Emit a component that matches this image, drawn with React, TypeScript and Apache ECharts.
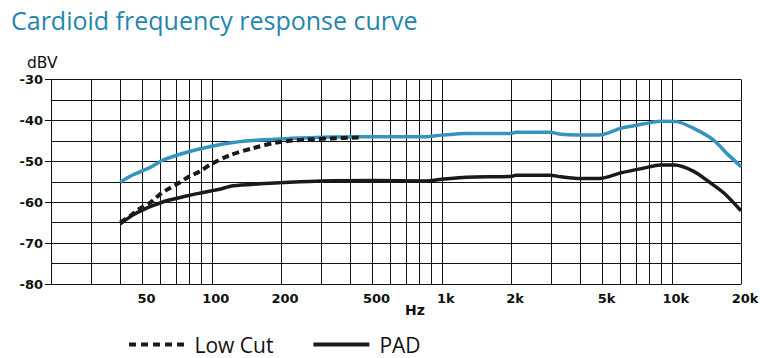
import React, { useEffect, useRef } from "react";
import * as echarts from "echarts";

const title = "Cardioid frequency response curve";
const yName = "dBV";
const xName = "Hz";

const xGridValues = [
  20, 30, 40, 50, 60, 70, 80, 90, 100, 200, 300, 400, 500, 600, 700, 800, 900,
  1000, 2000, 3000, 4000, 5000, 6000, 7000, 8000, 9000, 10000, 20000,
];
const xLabelValues = [50, 100, 200, 500, 1000, 2000, 5000, 10000, 20000];

const responseFreq = [40, 45.5, 54, 62, 80, 100, 124, 161, 218, 300, 500, 850, 1000, 1280, 2000, 2100, 2950, 3300, 3860, 4830, 6030, 7500, 8950, 10500, 12400, 15200, 17300, 20000];
const responseDb = [-55.1, -53.3, -51.5, -49.6, -47.6, -46.3, -45.4, -44.8, -44.4, -44.1, -44.0, -44.0, -43.6, -43.2, -43.2, -42.9, -42.9, -43.4, -43.6, -43.6, -41.9, -40.9, -40.2, -40.3, -41.9, -44.8, -48.0, -51.3];

const padFreq = [40, 45.5, 50.5, 54, 63, 77.5, 88.6, 100, 107, 124, 162, 218, 300, 500, 850, 1000, 1280, 2000, 2100, 2950, 3300, 3860, 4830, 6030, 7500, 8950, 10300, 12400, 14500, 16900, 20000];
const padDb = [-65.3, -63.1, -61.8, -61.1, -59.7, -58.5, -57.8, -57.2, -56.9, -56.0, -55.5, -55.1, -54.8, -54.7, -54.8, -54.4, -53.9, -53.7, -53.4, -53.4, -53.8, -54.2, -54.2, -52.8, -51.7, -50.9, -50.9, -52.4, -55.0, -57.8, -62.1];

const lowCutFreq = [40, 44.8, 48.2, 54, 59.2, 64.5, 71, 79.3, 88.6, 98, 120, 151, 191, 218, 260, 330, 435];
const lowCutDb = [-65.0, -63.1, -61.7, -60.1, -58.2, -56.8, -55.5, -53.8, -52.5, -50.9, -48.5, -46.8, -45.4, -45.0, -44.7, -44.4, -44.2];

const zip = (a: number[], b: number[]) => a.map((v, i) => [v, b[i]]);

const dashIcon = "path://M0,0h7v4h-7z M12,0h7v4h-7z M24,0h7v4h-7z M36,0h7v4h-7z M48,0h7v4h-7z";

export default function App() {
  const ref = useRef<HTMLDivElement>(null);
  useEffect(() => {
    document.body.style.margin = "0";
    if (!ref.current) return;
    const chart = echarts.init(ref.current, null, { renderer: "svg" });
    const tickFont = { fontFamily: "DejaVu Sans", fontSize: 13, fontWeight: "bold" as const, color: "#111" };
    chart.setOption({
      animation: false,
      backgroundColor: "#fff",
      title: {
        text: title,
        left: 6,
        top: 2,
        textStyle: { fontFamily: "Open Sans", fontSize: 25, fontWeight: "normal", color: "#2585ad" },
      },
      legend: {
        data: [
          { name: "Low Cut", icon: dashIcon },
          { name: "PAD", icon: "rect" },
        ],
        left: 124,
        top: 329,
        itemWidth: 56,
        itemHeight: 4,
        itemGap: 40,
        textStyle: { fontFamily: "Open Sans", fontSize: 21, color: "#111", padding: [0, 0, 0, 5] },
      },
      grid: { left: 51, right: 30, top: 79.5, bottom: 74, containLabel: false },
      xAxis: {
        type: "log",
        logBase: 10,
        min: 20,
        max: 20000,
        axisLine: { show: true, lineStyle: { color: "#111", width: 1 } },
        axisTick: { show: false, customValues: xGridValues },
        splitLine: { show: true, lineStyle: { color: "#111", width: 1 } },
        minorTick: { show: false },
        axisLabel: {
          customValues: xLabelValues,
          margin: 8,
          padding: [0, 0, 0, 8],
          ...tickFont,
          formatter: (v: number) => (v >= 1000 ? v / 1000 + "k" : String(v)),
        },
      },
      yAxis: {
        type: "value",
        min: -80,
        max: -30,
        interval: 10,
        axisLine: { show: true, lineStyle: { color: "#111", width: 1 } },
        axisTick: { show: true, length: 6, lineStyle: { color: "#111" } },
        splitLine: { show: true, lineStyle: { color: "#111", width: 1 } },
        minorTick: { show: false, splitNumber: 2 },
        minorSplitLine: { show: true, lineStyle: { color: "#111", width: 1 } },
        axisLabel: { margin: 8, ...tickFont },
      },
      graphic: [
        { type: "text", left: 27, top: 55, style: { text: yName, fontFamily: "DejaVu Sans", fontSize: 15.5, fill: "#111" } },
        { type: "text", left: 405, top: 303, style: { text: xName, fontFamily: "DejaVu Sans", fontSize: 14, fontWeight: "bold", fill: "#111" } },
      ],
      series: [
        {
          name: "Response",
          type: "line",
          data: zip(responseFreq, responseDb),
          showSymbol: false,
          symbol: "none",
          smooth: 0.3,
          lineStyle: { color: "#3593bf", width: 3.5 },
          itemStyle: { color: "#3593bf" },
          z: 3,
        },
        {
          name: "Low Cut",
          type: "line",
          data: zip(lowCutFreq, lowCutDb),
          showSymbol: false,
          symbol: "none",
          smooth: 0.3,
          lineStyle: { color: "#1a1a1a", width: 4, type: [7, 4] },
          itemStyle: { color: "#1a1a1a" },
          z: 4,
        },
        {
          name: "PAD",
          type: "line",
          data: zip(padFreq, padDb),
          showSymbol: false,
          symbol: "none",
          smooth: 0.3,
          lineStyle: { color: "#1a1a1a", width: 3.5 },
          itemStyle: { color: "#1a1a1a" },
          z: 3,
        },
      ],
    });
    return () => chart.dispose();
  }, []);
  return <div ref={ref} style={{ width: 771, height: 358 }} />;
}
